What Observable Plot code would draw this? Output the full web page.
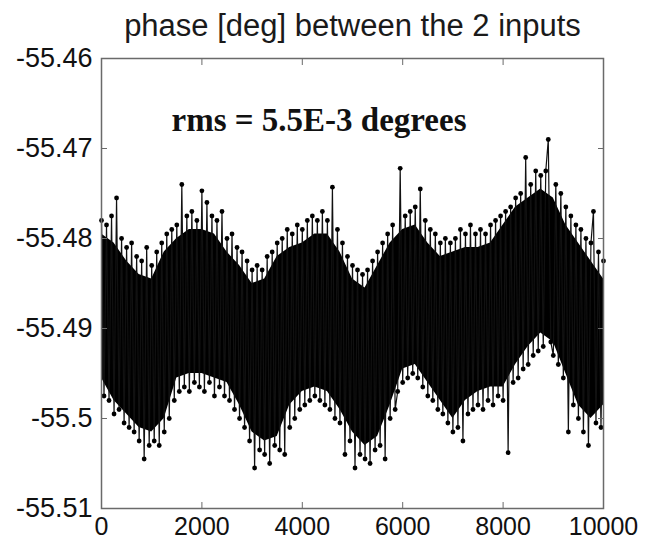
<!DOCTYPE html>
<html>
<head>
<meta charset="utf-8">
<script src="https://cdn.jsdelivr.net/npm/d3@7"></script>
<script src="https://cdn.jsdelivr.net/npm/@observablehq/plot@0.6"></script>
<style>
  html, body { margin: 0; padding: 0; background: #fff; }
</style>
</head>
<body>
<div id="chart"></div>
<script>
// ---- chart values ----
const titleText = "phase [deg] between the 2 inputs";
const annotationText = "rms = 5.5E-3 degrees";

const xTicks = [0, 2000, 4000, 6000, 8000, 10000];
const xTickLabels = ["0", "2000", "4000", "6000", "8000", "10000"];
const yTicks = [-55.46, -55.47, -55.48, -55.49, -55.5, -55.51];
const yTickLabels = ["-55.46", "-55.47", "-55.48", "-55.49", "-55.5", "-55.51"];

// sampled phase readings, one every 50 samples (0 .. 10000)
const sampleStep = 50;
const phase = [
  -55.478, -55.4975, -55.4785, -55.498, -55.4775, -55.4995, -55.4755, -55.499, -55.48, -55.5005,
  -55.481, -55.501, -55.4805, -55.5015, -55.482, -55.5025, -55.4825, -55.5045, -55.481, -55.503,
  -55.483, -55.5025, -55.4815, -55.503, -55.4805, -55.5015, -55.4795, -55.5, -55.479, -55.498,
  -55.4785, -55.497, -55.474, -55.4965, -55.4775, -55.497, -55.477, -55.496, -55.478, -55.4965,
  -55.4747, -55.497, -55.476, -55.496, -55.4775, -55.4975, -55.478, -55.4965, -55.477, -55.4975,
  -55.48, -55.498, -55.4795, -55.499, -55.481, -55.5, -55.4815, -55.501, -55.4825, -55.5025,
  -55.4835, -55.5055, -55.483, -55.5035, -55.4835, -55.504, -55.482, -55.505, -55.4815, -55.503,
  -55.4805, -55.5035, -55.48, -55.504, -55.479, -55.501, -55.4795, -55.5, -55.4785, -55.499,
  -55.479, -55.4985, -55.478, -55.498, -55.4775, -55.4975, -55.478, -55.498, -55.477, -55.4985,
  -55.478, -55.499, -55.4743, -55.5, -55.479, -55.5005, -55.4805, -55.504, -55.482, -55.5025,
  -55.483, -55.5055, -55.4835, -55.504, -55.484, -55.5045, -55.4835, -55.505, -55.4825, -55.5035,
  -55.4815, -55.503, -55.4805, -55.5045, -55.4795, -55.5, -55.4785, -55.499, -55.497, -55.4722,
  -55.496, -55.4775, -55.4955, -55.477, -55.495, -55.4765, -55.4955, -55.4745, -55.4965, -55.478,
  -55.4975, -55.479, -55.498, -55.4795, -55.499, -55.4805, -55.4995, -55.48, -55.5005, -55.4805,
  -55.5015, -55.48, -55.501, -55.479, -55.5025, -55.4795, -55.4995, -55.4785, -55.499, -55.4795,
  -55.4985, -55.479, -55.499, -55.4795, -55.498, -55.4785, -55.4985, -55.478, -55.4975, -55.4775,
  -55.498, -55.477, -55.5038, -55.4765, -55.496, -55.4755, -55.4955, -55.475, -55.4945, -55.471,
  -55.494, -55.474, -55.493, -55.4725, -55.4925, -55.473, -55.492, -55.4725, -55.469, -55.4915,
  -55.493, -55.474, -55.494, -55.475, -55.4955, -55.4765, -55.5015, -55.4775, -55.4985, -55.4785,
  -55.5, -55.479, -55.5015, -55.48, -55.503, -55.4805, -55.477, -55.5005, -55.4815, -55.501,
  -55.4825
];

// solid core of the noise band, every 250 samples
const bandX = [0, 250, 500, 750, 1000, 1250, 1500, 1750, 2000, 2250, 2500, 2750, 3000, 3250, 3500,
  3750, 4000, 4250, 4500, 4750, 5000, 5250, 5500, 5750, 6000, 6250, 6500, 6750, 7000, 7250, 7500,
  7750, 8000, 8250, 8500, 8750, 9000, 9250, 9500, 9750, 10000];
const bandTop = [-55.4795, -55.4805, -55.4825, -55.484, -55.4845, -55.4815, -55.48, -55.479, -55.479,
  -55.4795, -55.4815, -55.483, -55.485, -55.4845, -55.482, -55.481, -55.4805, -55.4795, -55.4795,
  -55.4815, -55.4845, -55.4855, -55.483, -55.4805, -55.479, -55.4785, -55.4805, -55.482, -55.4815,
  -55.481, -55.481, -55.4805, -55.4785, -55.4765, -55.4755, -55.4745, -55.4755, -55.4785, -55.4805,
  -55.4825, -55.4845];
const bandBottom = [-55.4955, -55.498, -55.4995, -55.501, -55.5015, -55.5, -55.4955, -55.495, -55.495,
  -55.4955, -55.496, -55.4985, -55.5015, -55.5025, -55.502, -55.4985, -55.497, -55.4965, -55.497,
  -55.499, -55.5015, -55.503, -55.502, -55.4985, -55.4945, -55.494, -55.496, -55.498, -55.5,
  -55.498, -55.497, -55.4965, -55.4965, -55.494, -55.492, -55.4905, -55.4915, -55.495, -55.4985,
  -55.5, -55.4985];

// ---- tables built from the arrays ----
const samples = phase.map((v, i) => ({x: i * sampleStep, y: v}));
const band = bandX.map((x, i) => ({x, y1: bandBottom[i], y2: bandTop[i]}));

const sans = "'Liberation Sans', Arial, Helvetica, sans-serif";
const frameColor = "#6a6a6a";

const chart = Plot.plot({
  width: 646,
  height: 541,
  marginLeft: 101,
  marginRight: 43,
  marginTop: 58,
  marginBottom: 33,
  style: {fontFamily: sans, background: "#fff", color: "#111", overflow: "visible"},
  x: {domain: [0, 10000]},
  y: {domain: [-55.51, -55.46]},
  marks: [
    Plot.areaY(band, {x: "x", y1: "y1", y2: "y2", fill: "#000", curve: "linear"}),
    Plot.lineY(samples, {x: "x", y: "y", stroke: "#111", strokeWidth: 1.2}),
    Plot.dot(samples, {x: "x", y: "y", r: 2.4, fill: "#000", stroke: "none"}),
    Plot.frame({stroke: frameColor, strokeWidth: 1.5}),
    // inward tick marks on all four sides
    Plot.axisX(xTicks, {anchor: "bottom", tickSize: -6, fill: "none", stroke: frameColor, label: null}),
    Plot.axisX(xTicks, {anchor: "top", tickSize: -6, fill: "none", stroke: frameColor, label: null}),
    Plot.axisY(yTicks, {anchor: "left", tickSize: -6, fill: "none", stroke: frameColor, label: null}),
    Plot.axisY(yTicks, {anchor: "right", tickSize: -6, fill: "none", stroke: frameColor, label: null}),
    // tick labels
    Plot.axisX(xTicks, {anchor: "bottom", tickSize: 0, tickPadding: 9, fontSize: 25, fill: "#111",
      tickFormat: d => xTickLabels[xTicks.indexOf(d)], label: null}),
    Plot.axisY(yTicks, {anchor: "left", tickSize: 0, tickPadding: 9, fontSize: 27, fill: "#111",
      tickFormat: d => yTickLabels[yTicks.indexOf(d)], label: null}),
    // title
    Plot.text([titleText], {frameAnchor: "top", lineAnchor: "middle", dy: -32, fontSize: 31,
      fill: "#1a1a1a", fontFamily: sans}),
    // annotation
    Plot.text([annotationText], {frameAnchor: "top-left", textAnchor: "start", lineAnchor: "middle",
      dx: 70, dy: 62, fontSize: 33, fontWeight: "bold", fill: "#111",
      fontFamily: "'Liberation Serif', 'Times New Roman', serif"})
  ]
});

document.getElementById("chart").appendChild(chart);
</script>
</body>
</html>
